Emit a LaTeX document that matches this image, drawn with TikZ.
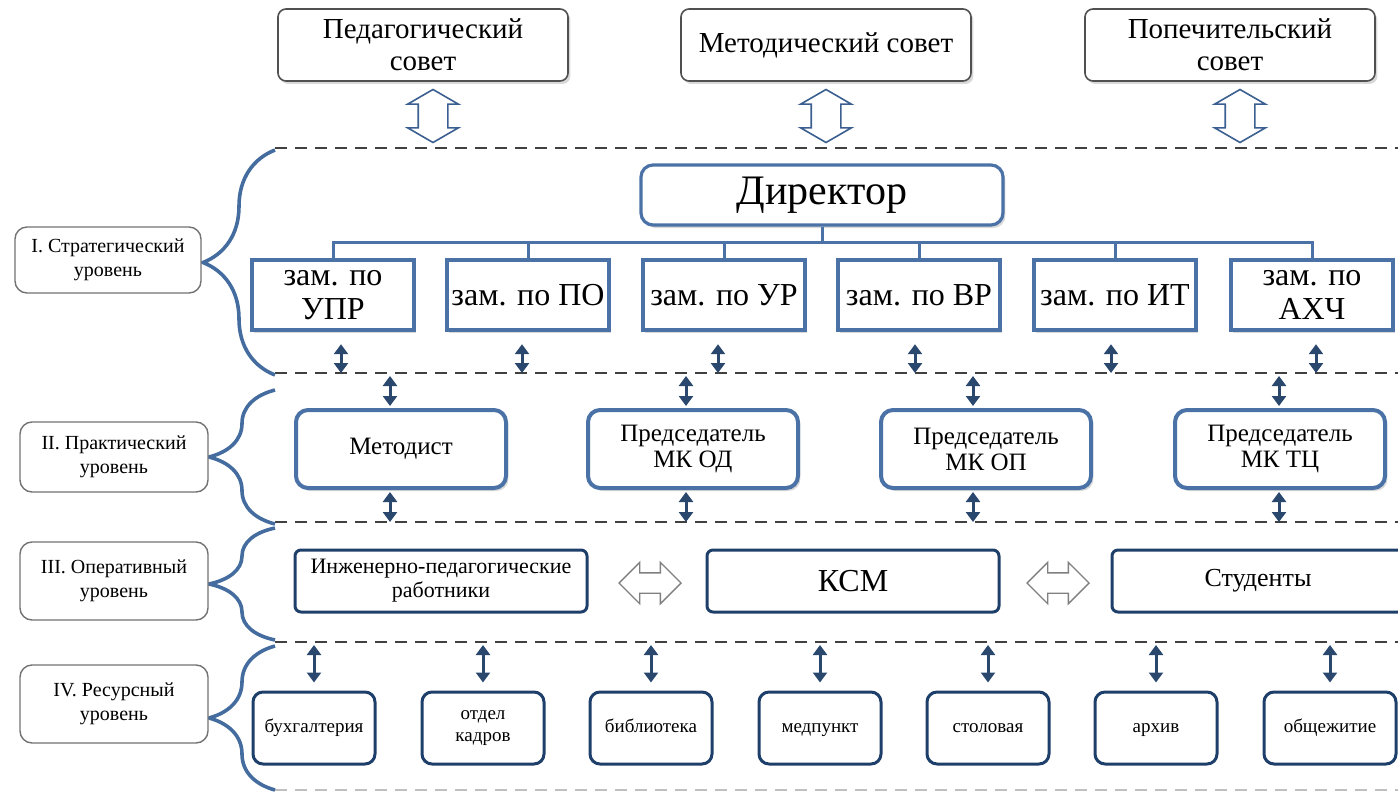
\documentclass[tikz,border=0pt]{standalone}
\usepackage{fontspec}
\setmainfont{Liberation Serif}
\usetikzlibrary{positioning,arrows.meta,shapes.arrows,shadows,decorations.pathreplacing}

\definecolor{midblue}{RGB}{74,114,166}
\definecolor{navy}{RGB}{31,63,107}
\definecolor{arrnavy}{RGB}{42,72,110}
\definecolor{bracecol}{RGB}{68,108,158}
\definecolor{framegray}{RGB}{80,80,80}
\definecolor{hollowblue}{RGB}{60,95,145}

\tikzset{
    boxshadow/.style={drop shadow={shadow xshift=1.2pt, shadow yshift=-1.5pt, opacity=0.3}},
    topbox/.style={draw=framegray, line width=0.8pt, rounded corners=4pt, fill=white, boxshadow,
        minimum width=145pt, minimum height=36pt, align=center, inner sep=2pt,
        font=\fontsize{14.5}{16}\selectfont},
    lvlbox/.style={draw=framegray!80, line width=0.7pt, rounded corners=6pt, fill=white,
        minimum width=94pt, minimum height=35pt, align=center,
        font=\fontsize{10}{12}\selectfont},
    dirbox/.style={draw=midblue, line width=1.6pt, rounded corners=6pt, fill=white, boxshadow,
        minimum width=181pt, minimum height=30pt, font=\fontsize{21}{24}\selectfont},
    zambox/.style={draw=midblue, line width=2.2pt, fill=white, boxshadow,
        minimum width=81pt, minimum height=35pt, align=center, inner sep=1pt,
        font=\fontsize{16}{17}\selectfont},
    pracbox/.style={draw=midblue, line width=2pt, rounded corners=6pt, fill=white, boxshadow,
        minimum width=105pt, minimum height=39pt, align=center,
        font=\fontsize{12.5}{13}\selectfont},
    opbox/.style={draw=navy, line width=1.5pt, rounded corners=3pt, fill=white,
        minimum width=146pt, minimum height=31pt, align=center,
        font=\fontsize{11}{12}\selectfont},
    resbox/.style={draw=navy, line width=1.5pt, rounded corners=5pt, fill=white,
        minimum width=61pt, minimum height=36pt, align=center, inner sep=1pt,
        font=\fontsize{9.5}{11}\selectfont},
    oneline/.style={text height=0.7em, text depth=0.25em},
    sepline/.style={dash pattern=on 6pt off 4pt, line width=0.7pt, draw=black!75},
    lvlbrace/.style={draw=bracecol, line width=1.8pt, decorate, decoration={brace, amplitude=#1}},
    dblarr/.style={draw=arrnavy, line width=1.5pt,
        {Triangle[width=7pt,length=5pt]}-{Triangle[width=7pt,length=5pt]}},
    tree/.style={draw=midblue, line width=1.5pt},
    vhollow/.style={double arrow, rotate=90, draw=hollowblue, fill=white, line width=0.8pt,
        minimum height=26.5pt, inner xsep=0pt, inner ysep=7pt,
        double arrow head extend=5.25pt, double arrow tip angle=120},
    hhollow/.style={double arrow, draw=black!50, fill=white, line width=0.7pt,
        minimum height=31pt, inner xsep=0pt, inner ysep=4.75pt,
        double arrow head extend=5.25pt, double arrow tip angle=90},
}

\begin{document}
\begin{tikzpicture}[x=0.5pt, y=-0.5pt]
    \useasboundingbox (0,0) rectangle (1398,792);

    % councils on top
    \node[topbox] (pedsov) at (423,45) {Педагогический\\совет};
    \node[topbox] (metsov) at (826,45) {Методический совет};
    \node[topbox] (popsov) at (1230,45) {Попечительский\\совет};
    \node[vhollow] (pedarr) at (433,116) {};
    \node[vhollow] (metarr) at (826,116) {};
    \node[vhollow] (poparr) at (1240,116) {};

    % level borders
    \coordinate (sepA) at (275,148);
    \coordinate (sepB) at (275,373);
    \coordinate (sepC) at (275,522);
    \coordinate (sepD) at (275,642);
    \coordinate (sepE) at (275,790);
    \coordinate (rim) at (1398,0);
    \foreach \s in {sepA,sepB,sepC,sepD}
        \draw[sepline] (\s) -- (\s -| rim);
    \draw[sepline, draw=black!25] (sepE) -- (sepE -| rim);

    % braces and level names
    \draw[lvlbrace=36pt] (275,375) -- (275,150);
    \draw[lvlbrace=33pt] (275,524) -- (275,390);
    \draw[lvlbrace=33pt] (275,640) -- (275,528);
    \draw[lvlbrace=33pt] (275,790) -- (275,646);
    \node[lvlbox, minimum width=93pt, minimum height=33pt] (lvl1) at (108,260) {I. Стратегический\\уровень};
    \node[lvlbox] (lvl2) at (114,457) {II. Практический\\уровень};
    \node[lvlbox, minimum height=39pt] (lvl3) at (114,581) {III. Оперативный\\уровень};
    \node[lvlbox, minimum height=39pt] (lvl4) at (114,704) {IV. Ресурсный\\уровень};

    % I. strategic level
    \node[dirbox] (dir) at (822,195) {Директор};
    \node[zambox] (zam1) at (333,295) {зам. по\\УПР};
    \node[zambox] (zam2) at (528,295) {зам. по ПО};
    \node[zambox] (zam3) at (724,295) {зам. по УР};
    \node[zambox] (zam4) at (919,295) {зам. по ВР};
    \node[zambox] (zam5) at (1115,295) {зам. по ИТ};
    \node[zambox] (zam6) at (1312,295) {зам. по\\АХЧ};
    \foreach \n in {1,...,6}
        \draw[tree] (dir.south) -- ++(0,-8pt) -| (zam\n.north);
    \foreach \n/\dx in {1/4,2/-3,3/-3,4/-2,5/-2,6/2}
        \draw[dblarr] ([xshift=\dx pt, yshift=-6pt]zam\n.south) -- ([xshift=\dx pt]zam\n.south |- sepB);

    % II. practical level
    \node[pracbox] (metod) at (401,449) {Методист};
    \node[pracbox] (mkod) at (693,449) {Председатель\\МК ОД};
    \node[pracbox] (mkop) at (986,449) {Председатель\\МК ОП};
    \node[pracbox] (mktc) at (1280,449) {Председатель\\МК ТЦ};
    \foreach \b/\dx in {metod/-5.5,mkod/-3.5,mkop/-6.5,mktc/-0.5} {
        \draw[dblarr] ([xshift=\dx pt, yshift=-1.5pt]\b.north |- sepB) -- ([xshift=\dx pt, yshift=1pt]\b.north);
        \draw[dblarr] ([xshift=\dx pt, yshift=-1pt]\b.south) -- ([xshift=\dx pt]\b.south |- sepC);
    }

    % III. operative level
    \node[opbox] (ipr) at (441,581) {Инженерно-педагогические\\работники};
    \node[opbox, font=\fontsize{16}{18}\selectfont] (ksm) at (853,581) {КСМ};
    \node[opbox, font=\fontsize{13}{15}\selectfont] (stud) at (1258,581) {Студенты};
    \node[hhollow] (iprksm) at (650,583) {};
    \node[hhollow] (ksmstud) at (1058,583) {};

    % IV. resource level
    \foreach \n/\x/\t in {buh/314/бухгалтерия, bibl/651/библиотека, med/820/медпункт,
                          stol/988/столовая, arh/1156/архив}
        \node[resbox, oneline] (\n) at (\x,728) {\t};
    \node[resbox] (kadr) at (483,728) {отдел\\кадров};
    \node[resbox, oneline, minimum width=66pt] (obsh) at (1330,728) {общежитие};
    \foreach \n in {buh,kadr,bibl,med,stol,arh,obsh}
        \draw[dblarr] ([yshift=-1.5pt]\n.north |- sepD) -- ([yshift=4pt]\n.north);
\end{tikzpicture}
\end{document}
